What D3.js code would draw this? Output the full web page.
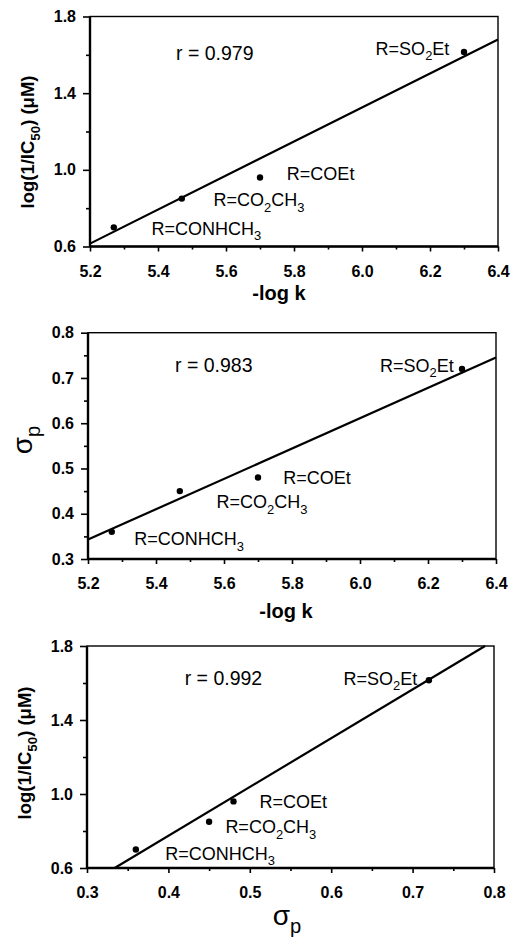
<!DOCTYPE html>
<html>
<head>
<meta charset="utf-8">
<script src="https://cdn.jsdelivr.net/npm/d3@7"></script>
<style>
  body { margin: 0; background: #fff; }
  svg { display: block; font-family: "Liberation Sans", Arial, sans-serif; }
</style>
</head>
<body>
<script>
// substituents, in the order of the points
const substituents = ['R=CONHCH_3', 'R=CO_2CH_3', 'R=COEt', 'R=SO_2Et']
const logK = [5.27, 5.47, 5.70, 6.30]
const sigmaP = [0.36, 0.45, 0.48, 0.72]
const logIC = [0.70, 0.85, 0.96, 1.615]

// fitted lines (end points)
const fit1 = [[5.2, 0.615], [6.4, 1.68]]
const fit2 = [[5.2, 0.343], [6.4, 0.745]]
const fit3 = [[0.334, 0.6], [0.789, 1.8]]
const rValues = ['r = 0.979', 'r = 0.983', 'r = 0.992']

const logKTicks = [5.2, 5.4, 5.6, 5.8, 6.0, 6.2, 6.4]
const logKMinor = [5.3, 5.5, 5.7, 5.9, 6.1, 6.3]
const icTicks = [0.6, 1.0, 1.4, 1.8]
const icMinor = [0.8, 1.2, 1.6]
const sigmaTicks = [0.3, 0.4, 0.5, 0.6, 0.7, 0.8]
const sigmaMinor = [0.35, 0.45, 0.55, 0.65, 0.75]

const svg = d3.select('body').append('svg')
    .attr('width', 511)
    .attr('height', 941)

// writes a string with _n subscripts into a text element
const rich = (text, str, size) => {
    const parts = str.split(/_(\d+|p)/)
    const shift = size * 0.3
    parts.forEach((part, i) => {
        if (part === '') return
        const sub = i % 2 === 1
        text.append('tspan')
            .attr('dy', sub ? shift : (i > 0 ? -shift : 0))
            .attr('font-size', sub ? size * 0.72 : size)
            .text(part)
    })
}

const drawPanel = (p) => {
    const x = d3.scaleLinear().domain(p.xDomain).range([p.left, p.right])
    const y = d3.scaleLinear().domain(p.yDomain).range([p.bottom, p.top])
    const g = svg.append('g')

    g.append('rect')
        .attr('x', p.left).attr('y', p.top)
        .attr('width', p.right - p.left).attr('height', p.bottom - p.top)
        .attr('fill', 'none').attr('stroke', '#000').attr('stroke-width', 1.4)

    const styleAxis = s => {
        s.select('.domain').remove()
        s.selectAll('.tick line').attr('stroke', '#000').attr('stroke-width', 1.6)
        s.selectAll('.tick text')
            .attr('fill', '#000')
            .attr('font-size', 16)
            .attr('font-weight', 'bold')
            .attr('font-family', '"Liberation Sans", Arial, sans-serif')
    }

    g.append('g').attr('transform', `translate(0,${p.bottom})`)
        .call(d3.axisBottom(x).tickValues(p.xMinor).tickSize(3).tickFormat(''))
        .call(styleAxis)
    g.append('g').attr('transform', `translate(0,${p.bottom})`)
        .call(d3.axisBottom(x).tickValues(p.xTicks).tickSize(5).tickPadding(14).tickFormat(d3.format('.1f')))
        .call(styleAxis)
    g.append('g').attr('transform', `translate(${p.left},0)`)
        .call(d3.axisLeft(y).tickValues(p.yMinor).tickSize(4).tickFormat(''))
        .call(styleAxis)
    g.append('g').attr('transform', `translate(${p.left},0)`)
        .call(d3.axisLeft(y).tickValues(p.yTicks).tickSize(7).tickPadding(7).tickFormat(d3.format('.1f')))
        .call(styleAxis)

    // heavier left and bottom axis lines
    g.append('line')
        .attr('x1', p.left).attr('x2', p.right).attr('y1', p.bottom).attr('y2', p.bottom)
        .attr('stroke', '#000').attr('stroke-width', 2.4)
    g.append('line')
        .attr('x1', p.left).attr('x2', p.left).attr('y1', p.top).attr('y2', p.bottom)
        .attr('stroke', '#000').attr('stroke-width', 2.4)

    g.append('line')
        .attr('x1', x(p.fit[0][0])).attr('y1', y(p.fit[0][1]))
        .attr('x2', x(p.fit[1][0])).attr('y2', y(p.fit[1][1]))
        .attr('stroke', '#000').attr('stroke-width', 2.2)

    g.selectAll('circle')
        .data(p.xs)
        .enter()
        .append('circle')
        .attr('cx', d => x(d))
        .attr('cy', (d, i) => y(p.ys[i]))
        .attr('r', 3.2)
        .attr('fill', '#000')

    g.append('text')
        .attr('x', x(p.rPos[0])).attr('y', y(p.rPos[1]))
        .attr('font-size', 19.5)
        .text(p.r)

    substituents.forEach((s, i) => {
        const t = g.append('text')
            .attr('x', x(p.labelPos[i][0])).attr('y', y(p.labelPos[i][1]))
        rich(t, s, 18)
    })

    const xl = g.append('text')
        .attr('x', p.xLabelPos[0]).attr('y', p.xLabelPos[1])
        .attr('text-anchor', 'middle')
        .attr('font-weight', p.xLabelBold ? 'bold' : 'normal')
    rich(xl, p.xLabel, p.xLabelSize)

    const yl = g.append('text')
        .attr('transform', `translate(${p.yLabelPos[0]},${p.yLabelPos[1]}) rotate(-90)`)
        .attr('text-anchor', 'middle')
        .attr('font-weight', p.yLabelBold ? 'bold' : 'normal')
    rich(yl, p.yLabel, p.yLabelSize)
}

drawPanel({
    left: 90, right: 498, top: 16.5, bottom: 246.5,
    xDomain: [5.2, 6.4], yDomain: [0.6, 1.8],
    xTicks: logKTicks, xMinor: logKMinor, yTicks: icTicks, yMinor: icMinor,
    xs: logK, ys: logIC, fit: fit1, r: rValues[0],
    rPos: [5.453, 1.574],
    labelPos: [[5.381, 0.661], [5.563, 0.809], [5.779, 0.948], [6.04, 1.60]],
    xLabel: '-log k', xLabelPos: [279, 300], xLabelSize: 20, xLabelBold: true,
    yLabel: 'log(1/IC_50) (μM)', yLabelPos: [34, 142], yLabelSize: 18.5, yLabelBold: true
})

drawPanel({
    left: 88, right: 496, top: 332.7, bottom: 559,
    xDomain: [5.2, 6.4], yDomain: [0.3, 0.8],
    xTicks: logKTicks, xMinor: logKMinor, yTicks: sigmaTicks, yMinor: sigmaMinor,
    xs: logK, ys: sigmaP, fit: fit2, r: rValues[1],
    rPos: [5.456, 0.714],
    labelPos: [[5.336, 0.33], [5.578, 0.412], [5.774, 0.465], [6.059, 0.714]],
    xLabel: '-log k', xLabelPos: [286, 618], xLabelSize: 20, xLabelBold: true,
    yLabel: 'σ_p', yLabelPos: [32, 440], yLabelSize: 28, yLabelBold: false
})

drawPanel({
    left: 87, right: 494, top: 646, bottom: 868,
    xDomain: [0.3, 0.8], yDomain: [0.6, 1.8],
    xTicks: sigmaTicks, xMinor: sigmaMinor, yTicks: icTicks, yMinor: icMinor,
    xs: sigmaP, ys: logIC, fit: fit3, r: rValues[2],
    rPos: [0.42, 1.589],
    labelPos: [[0.396, 0.643], [0.470, 0.787], [0.512, 0.923], [0.615, 1.589]],
    xLabel: 'σ_p', xLabelPos: [287, 925], xLabelSize: 28, xLabelBold: false,
    yLabel: 'log(1/IC_50) (μM)', yLabelPos: [31, 753], yLabelSize: 18.5, yLabelBold: true
})
</script>
</body>
</html>
